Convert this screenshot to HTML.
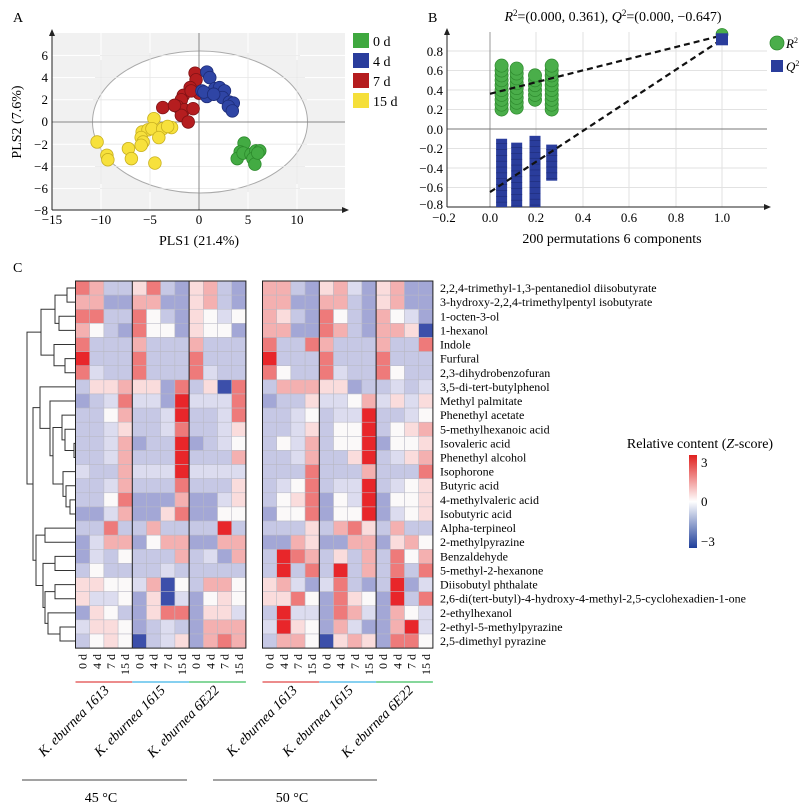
<!DOCTYPE html>
<html><head><meta charset="utf-8"><style>
body{margin:0;background:#fff}
svg{display:block;font-family:"Liberation Serif",serif}
</style></head><body>
<svg id="s" width="811" height="812" viewBox="0 0 811 812" xmlns="http://www.w3.org/2000/svg">
<rect width="811" height="812" fill="#fff"/>
<!-- Panel A -->
<text x="13" y="22" font-size="14">A</text>
<rect x="52" y="33" width="293" height="177" fill="#f1f1f1"/>
<g stroke="#fff" stroke-width="1">
<line x1="101" y1="33" x2="101" y2="210"/><line x1="150" y1="33" x2="150" y2="210"/><line x1="248" y1="33" x2="248" y2="210"/><line x1="297" y1="33" x2="297" y2="210"/>
<line x1="52" y1="55.4" x2="345" y2="55.4"/><line x1="52" y1="77.6" x2="345" y2="77.6"/><line x1="52" y1="99.8" x2="345" y2="99.8"/><line x1="52" y1="144.2" x2="345" y2="144.2"/><line x1="52" y1="166.4" x2="345" y2="166.4"/><line x1="52" y1="188.6" x2="345" y2="188.6"/>
</g>
<ellipse cx="200" cy="122" rx="107.5" ry="71" fill="#fff" stroke="#aaa" stroke-width="1"/>
<g stroke="#e6e6e6" stroke-width="0.8">
<line x1="101" y1="60" x2="101" y2="184" /><line x1="150" y1="53" x2="150" y2="192"/><line x1="248" y1="53" x2="248" y2="192"/><line x1="297" y1="60" x2="297" y2="184"/>
<line x1="100" y1="55.4" x2="300" y2="55.4"/><line x1="95" y1="77.6" x2="305" y2="77.6"/><line x1="93" y1="99.8" x2="307" y2="99.8"/><line x1="93" y1="144.2" x2="307" y2="144.2"/><line x1="95" y1="166.4" x2="305" y2="166.4"/><line x1="100" y1="188.6" x2="300" y2="188.6"/>
</g>
<line x1="199" y1="33" x2="199" y2="210" stroke="#888"/>
<line x1="52" y1="122" x2="345" y2="122" stroke="#888"/>
<line x1="52" y1="210" x2="345" y2="210" stroke="#222"/>
<line x1="52" y1="33" x2="52" y2="210" stroke="#222"/>
<path d="M349 210 l-7 -3 v6z M52 29 l-3 7 h6z" fill="#222"/>
<g id="pa"></g>
<g font-size="13" text-anchor="middle">
<text x="52" y="224">−15</text><text x="101" y="224">−10</text><text x="150" y="224">−5</text><text x="199" y="224">0</text><text x="248" y="224">5</text><text x="297" y="224">10</text>
<text x="199" y="245" font-size="14">PLS1 (21.4%)</text>
</g>
<g font-size="13" text-anchor="end">
<text x="48" y="60">6</text><text x="48" y="82">4</text><text x="48" y="104">2</text><text x="48" y="126">0</text><text x="48" y="149">−2</text><text x="48" y="171">−4</text><text x="48" y="193">−6</text><text x="48" y="215">−8</text>
</g>
<text transform="translate(21,122) rotate(-90)" font-size="14" text-anchor="middle">PLS2 (7.6%)</text>
<rect x="353" y="33" width="16" height="15" fill="#3fa83f"/><rect x="353" y="53" width="16" height="15" fill="#2a3d9c"/><rect x="353" y="73" width="16" height="15" fill="#b51d1f"/><rect x="353" y="93" width="16" height="15" fill="#f5df3a"/>
<g font-size="14"><text x="373" y="46">0 d</text><text x="373" y="66">4 d</text><text x="373" y="86">7 d</text><text x="373" y="106">15 d</text></g>

<!-- Panel B -->
<text x="428" y="22" font-size="14">B</text>
<text x="613" y="21" font-size="14" text-anchor="middle"><tspan font-style="italic">R</tspan><tspan font-size="9" dy="-5">2</tspan><tspan dy="5">=(0.000, 0.361), </tspan><tspan font-style="italic">Q</tspan><tspan font-size="9" dy="-5">2</tspan><tspan dy="5">=(0.000, −0.647)</tspan></text>
<g stroke="#e2e2e2" stroke-width="1">
<line x1="536" y1="32" x2="536" y2="207"/><line x1="583" y1="32" x2="583" y2="207"/><line x1="629" y1="32" x2="629" y2="207"/><line x1="676" y1="32" x2="676" y2="207"/><line x1="722" y1="32" x2="722" y2="207"/>
<line x1="447" y1="51" x2="767" y2="51"/><line x1="447" y1="70.5" x2="767" y2="70.5"/><line x1="447" y1="90" x2="767" y2="90"/><line x1="447" y1="109.5" x2="767" y2="109.5"/><line x1="447" y1="148.5" x2="767" y2="148.5"/><line x1="447" y1="168" x2="767" y2="168"/><line x1="447" y1="187.5" x2="767" y2="187.5"/>
</g>
<line x1="490" y1="32" x2="490" y2="207" stroke="#999"/>
<line x1="447" y1="129" x2="767" y2="129" stroke="#777"/>
<line x1="447" y1="207" x2="767" y2="207" stroke="#222"/>
<line x1="447" y1="32" x2="447" y2="207" stroke="#222"/>
<path d="M771 207 l-7 -3 v6z M447 28 l-3 7 h6z" fill="#222"/>
<g id="pb"></g>
<g font-size="13" text-anchor="middle">
<text x="444" y="222">−0.2</text><text x="490" y="222">0.0</text><text x="536" y="222">0.2</text><text x="583" y="222">0.4</text><text x="629" y="222">0.6</text><text x="676" y="222">0.8</text><text x="722" y="222">1.0</text>
<text x="612" y="243" font-size="14">200 permutations 6 components</text>
</g>
<g font-size="13" text-anchor="end">
<text x="443" y="56">0.8</text><text x="443" y="75">0.6</text><text x="443" y="95">0.4</text><text x="443" y="114">0.2</text><text x="443" y="134">0.0</text><text x="443" y="153">−0.2</text><text x="443" y="173">−0.4</text><text x="443" y="192">−0.6</text><text x="443" y="209">−0.8</text>
</g>
<circle cx="777" cy="43" r="7" fill="#4aae4a" stroke="#2e8a2e" stroke-width="0.8"/>
<rect x="771" y="60" width="12" height="12" fill="#2a3d9c"/>
<text x="786" y="48" font-size="13" font-style="italic">R<tspan font-size="8" dy="-5" font-style="normal">2</tspan></text>
<text x="786" y="71" font-size="13" font-style="italic">Q<tspan font-size="8" dy="-5" font-style="normal">2</tspan></text>

<!-- Panel C -->
<text x="13" y="272" font-size="14">C</text>
<g id="hm"></g>
<g id="dg" stroke="#333" stroke-width="1" fill="none"></g>
<g id="lb" font-size="12"></g>
<text x="700" y="448" font-size="14" text-anchor="middle">Relative content (<tspan font-style="italic">Z</tspan>-score)</text>
<defs><linearGradient id="cb" x1="0" y1="0" x2="0" y2="1"><stop offset="0" stop-color="#e0201e"/><stop offset="0.5" stop-color="#ffffff"/><stop offset="1" stop-color="#1f3f9a"/></linearGradient></defs>
<rect x="689" y="455" width="8" height="93" fill="url(#cb)"/>
<g font-size="13"><text x="701" y="467">3</text><text x="701" y="506">0</text><text x="701" y="546">−3</text></g>
<g id="bt"></g>
<line x1="22" y1="780" x2="187" y2="780" stroke="#444"/>
<line x1="213" y1="780" x2="377" y2="780" stroke="#444"/>
<g font-size="14" text-anchor="middle"><text x="101" y="802">45 °C</text><text x="292" y="802">50 °C</text></g>
</svg>
<script>
var NS="http://www.w3.org/2000/svg";
function el(p,t,a,txt){var e=document.createElementNS(NS,t);for(var k in a)e.setAttribute(k,a[k]);if(txt!=null)e.textContent=txt;document.getElementById(p).appendChild(e);return e;}
var A={g:[[4.6,-1.9],[4.2,-2.7],[3.9,-3.3],[4.5,-2.8],[5.3,-2.9],[5.8,-2.6],[6.2,-2.6],[5.5,-3.3],[5.7,-3.8],[6.0,-2.8]],
b:[[0.8,4.5],[1.1,4.0],[0.3,2.8],[0.8,2.3],[1.6,3.0],[2.1,3.1],[2.6,2.8],[2.4,2.2],[3.1,1.8],[3.5,1.7],[3.0,1.4],[3.4,1.0],[0.5,2.7],[1.5,2.5]],
r:[[-0.4,4.4],[-0.3,3.8],[-0.9,3.1],[-1.6,2.4],[-1.8,2.0],[0.0,2.6],[-3.7,1.3],[-2.2,1.4],[-1.5,1.1],[-0.6,1.2],[-1.8,0.6],[-1.1,0.0],[-2.5,1.5],[-0.8,2.8]],
y:[[-4.6,0.3],[-5.8,-0.9],[-5.2,-0.7],[-4.8,-0.6],[-3.7,-0.6],[-2.8,-0.5],[-3.2,-0.4],[-4.1,-1.4],[-5.9,-1.4],[-5.7,-1.8],[-5.9,-2.1],[-7.2,-2.4],[-6.9,-3.3],[-10.4,-1.8],[-9.4,-3.0],[-9.3,-3.4],[-4.5,-3.7]]};
var AC={g:["#43ab43","#2c8a2c"],b:["#2f45a5","#1d2c78"],r:["#b51d1f","#7f1214"],y:["#f7e13c","#c8b020"]};
["y","r","b","g"].forEach(function(k){A[k].forEach(function(p){el("pa","circle",{cx:199+9.8*p[0],cy:122-11.1*p[1],r:6.3,fill:AC[k][0],stroke:AC[k][1],"stroke-width":0.8});});});
function bx(v){return 490+232*v}function by(v){return 129-97.5*v}
var cols=[0.05,0.115,0.194,0.266];
var qr=[[-0.1,-0.8],[-0.14,-0.8],[-0.07,-0.8],[-0.16,-0.53]];
cols.forEach(function(c,i){el("pb","rect",{x:bx(c)-5.5,y:by(qr[i][0]),width:11,height:by(qr[i][1])-by(qr[i][0]),fill:"#2a3d9c"});
for(var v=qr[i][0]-0.05;v>qr[i][1];v-=0.06)el("pb","line",{x1:bx(c)-5.5,x2:bx(c)+5.5,y1:by(v),y2:by(v),stroke:"#1d2c78","stroke-width":0.6});});
var rr=[[0.2,0.65],[0.22,0.64],[0.3,0.59],[0.2,0.66]];
cols.forEach(function(c,i){for(var v=rr[i][0];v<=rr[i][1]+0.001;v+=0.05)el("pb","circle",{cx:bx(c),cy:by(v),r:6.6,fill:"#4aae4a",stroke:"#2e8a2e","stroke-width":0.7});});
el("pb","line",{x1:bx(0),y1:by(0.361),x2:bx(1),y2:by(0.96),stroke:"#111","stroke-width":2.2,"stroke-dasharray":"6,4"});
el("pb","line",{x1:bx(0),y1:by(-0.647),x2:bx(1),y2:by(0.92),stroke:"#111","stroke-width":2.2,"stroke-dasharray":"6,4"});
el("pb","circle",{cx:bx(1),cy:by(0.97),r:6,fill:"#4aae4a",stroke:"#2e8a2e","stroke-width":0.7});
el("pb","rect",{x:bx(1)-6,y:by(0.92)-6,width:12,height:12,fill:"#2a3d9c"});
var P={R:"#e8262a",r:"#ee7a7a",p:"#f4b0b0",q:"#fadcdc",w:"#fbf9f9",l:"#dcdcef",b:"#c6c8e5",m:"#a3a7d6",B:"#3c4faa"};
var D=["rpbbqrbmqpbm ppbmqplmqpmm","ppmmppmmqpbm ppmmppbmqpmm","rrbbrwbmqwlw pqbmrwbmpwlm","pwbmrwwmqwwm ppmmrpbmppqB","rbbbpbbbpbbb rbbrpbbbpbbr","Rbbbrbbbrbbb Rbbbrbbbrbbb","rlbbrbbbrlbb rwbbrlbbrwbb","bqqpqqmrbqBr bpppqqmbblbl","mblrllmRlllr mbbqllwplqlq","bbwpbblRbblr bblwbllRbblw","bblqbblrbblq bblqbwwRbwqp","bblpmbbRmblw bwlpbwwRmwwq","bblpbbbRbbbp bblpbbqRblqp","lbbplllRllll bbbrbbbpbbbr","bblpbbbrbbbq blwrbllRblwq","bbwrmmmpmmlq bwqrmwlRmwwq","mmlpmmqrmmww mwwrmwwRmlwq","bbrbbpbbbbRb bbbqbprqbpbb","mlppmwppmmpp mmpqmmppmqpw","mlbwbbbpblmp bRrpbqbpbrwp","bwbbbblbbbbb bRbrbRbpbrbr","qqwwlpBwbppw qplmlrbmbRml","qllwmqBlmwqw qqrwmrqwmRbr","mqwbmqrrmqql bRllmrplmpwl","lqqwmblbmppp lRqwmplmmpRl","bwqwBblqmprp bppwBqpqmrrw"];
var X0=[75.5,262.5],CW=14.2,Y0=281,RH=14.12;
D.forEach(function(row,i){var h=row.split(" ");for(var b=0;b<2;b++)for(var j=0;j<12;j++)el("hm","rect",{x:X0[b]+j*CW,y:Y0+i*RH,width:CW,height:RH,fill:P[h[b][j]],stroke:"#b8b8c4","stroke-width":0.5});});
for(var b=0;b<2;b++){el("hm","rect",{x:X0[b],y:Y0,width:12*CW,height:26*RH,fill:"none",stroke:"#222","stroke-width":1});
[4,8].forEach(function(c){el("hm","line",{x1:X0[b]+c*CW,x2:X0[b]+c*CW,y1:Y0,y2:Y0+26*RH,stroke:"#222","stroke-width":1});});
var labs=["0 d","4 d","7 d","15 d"];
for(var j=0;j<12;j++)el("bt","text",{transform:"translate("+(X0[b]+j*CW+CW/2+4)+",654) rotate(-90)","text-anchor":"end","font-size":"12"},labs[j%4]);
var cc=["#e04848","#3fb4e6","#3fbf5f"];
for(var g=0;g<3;g++)el("bt","line",{x1:X0[b]+g*4*CW,x2:X0[b]+(g+1)*4*CW,y1:682,y2:682,stroke:cc[g],"stroke-width":1.2});}
var sx=[110,166,220,298,354,414],sn=["1613","1615","6E22","1613","1615","6E22"];
sx.forEach(function(x,i){el("bt","text",{transform:"translate("+x+",691) rotate(-45)","text-anchor":"end","font-size":"14","font-style":"italic"},"K. eburnea "+sn[i]);});
var L=["2,2,4-trimethyl-1,3-pentanediol diisobutyrate","3-hydroxy-2,2,4-trimethylpentyl isobutyrate","1-octen-3-ol","1-hexanol","Indole","Furfural","2,3-dihydrobenzofuran","3,5-di-tert-butylphenol","Methyl palmitate","Phenethyl acetate","5-methylhexanoic acid","Isovaleric acid","Phenethyl alcohol","Isophorone","Butyric acid","4-methylvaleric acid","Isobutyric acid","Alpha-terpineol","2-methylpyrazine","Benzaldehyde","5-methyl-2-hexanone","Diisobutyl phthalate","2,6-di(tert-butyl)-4-hydroxy-4-methyl-2,5-cyclohexadien-1-one","2-ethylhexanol","2-ethyl-5-methylpyrazine","2,5-dimethyl pyrazine"];
L.forEach(function(s,i){el("lb","text",{x:440,y:Y0+i*RH+RH/2+4},s);});
function N(h,a,b){return{h:h,a:a,b:b}}
var T=N(27,N(41,N(55,N(67,0,1),N(59,2,3)),N(54,4,N(65,5,6))),
 N(33,N(40,7,N(50,8,N(53,N(62,9,N(65,10,N(74,11,12))),N(63,13,N(66,14,N(70,15,16)))))),
 N(36,N(45,17,18),N(43,N(55,19,20),N(45,N(55,21,22),N(48,23,N(60,24,25)))))));
function dr(n){if(typeof n==="number")return{x:75,y:Y0+n*RH+RH/2};var a=dr(n.a),b=dr(n.b);
el("dg","path",{d:"M"+a.x+" "+a.y+"H"+n.h+"V"+b.y+"H"+b.x});return{x:n.h,y:(a.y+b.y)/2};}
dr(T);
</script>
</body></html>
